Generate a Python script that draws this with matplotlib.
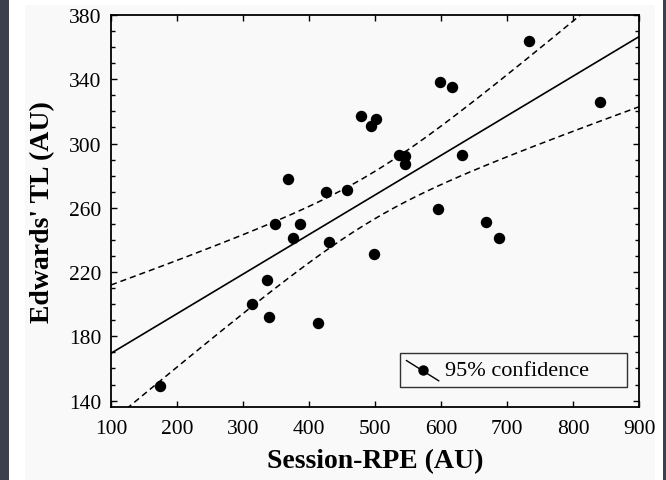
import matplotlib
matplotlib.use('Agg')
import matplotlib.pyplot as plt
import numpy as np
from matplotlib.legend_handler import HandlerBase
from matplotlib.lines import Line2D
from matplotlib.patches import Rectangle

# data
session_rpe = [174, 314, 336, 339, 414, 348, 386, 376, 368, 426, 458, 430, 498, 479,
               494, 502, 536, 545, 545, 595, 598, 617, 632, 668, 688, 733, 841]
edwards_tl = [149, 200, 215, 192, 188, 250, 250, 241, 278, 270, 271, 239, 231, 317,
              311, 315, 293, 292, 287, 259, 338, 335, 293, 251, 241, 364, 326]
x_ticks = [100, 200, 300, 400, 500, 600, 700, 800, 900]
y_ticks = [140, 180, 220, 260, 300, 340, 380]

x = np.array(session_rpe, float)
y = np.array(edwards_tl, float)

# linear fit + 95% confidence band of the mean
b, a = np.polyfit(x, y, 1)
n = len(x)
resid = y - (a + b * x)
s = np.sqrt(np.sum(resid**2) / (n - 2))
t = 2.06
xx = np.linspace(100, 900, 200)
yy = a + b * xx
se = s * np.sqrt(1.0 / n + (xx - x.mean())**2 / np.sum((x - x.mean())**2))


class DiagHandler(HandlerBase):
	def create_artists(self, legend, orig, xd, yd, width, height, fontsize, trans):
		ln = Line2D([xd, xd + width],
					[yd + height * 0.95, yd - height * 0.35],
					color='black', lw=1.0, transform=trans)
		mk = Line2D([xd + 0.5 * width], [yd + height * 0.35], marker='o', ms=6.5,
					color='black', ls='none', transform=trans)
		return [ln, mk]


plt.rcParams['font.family'] = 'Liberation Serif'
fig = plt.figure(figsize=(6.66, 4.81), dpi=100)
fig.patch.set_facecolor('white')
for r in [Rectangle((0, 0), 9 / 666, 1, facecolor='#3b404c'),
		  Rectangle((663 / 666, 0), 3 / 666, 1, facecolor='#3b404c'),
		  Rectangle((25 / 666, 0), 630 / 666, 1 - 6 / 481, facecolor='#f9f9f9')]:
	r.set_transform(fig.transFigure)
	r.set_edgecolor('none')
	r.set_zorder(-5)
	fig.add_artist(r)

ax = fig.add_axes([111 / 666, 1 - 408 / 481, 528 / 666, 392 / 481])
ax.set_facecolor('#f9f9f9')

ax.plot(xx, yy, color='black', lw=1.2)
ax.plot(xx, yy + t * se, color='black', lw=1.1, ls=(0, (4, 2.6)))
ax.plot(xx, yy - t * se, color='black', lw=1.1, ls=(0, (4, 2.6)))
ax.scatter(x, y, s=52, color='black', zorder=3)

ax.set_xlim(100, 900)
ax.set_ylim(136, 380)
ax.set_xticks(x_ticks)
ax.set_yticks(y_ticks)
ax.set_yticks(np.arange(140, 380, 10), minor=True)
ax.tick_params(which='both', direction='in', top=True, right=True, labelsize=15.5, width=1)
ax.tick_params(which='major', length=4)
ax.tick_params(axis='x', which='major', pad=8.5)
ax.tick_params(axis='y', which='major', pad=7)
ax.tick_params(which='minor', length=3)
for sp in ax.spines.values():
	sp.set_linewidth(1.3)

ax.set_xlabel('Session-RPE (AU)', fontsize=20, fontweight='bold', labelpad=7.5)
ax.set_ylabel("Edwards' TL (AU)", fontsize=20, fontweight='bold', labelpad=10)

h = Line2D([], [])
leg = ax.legend([h], ['95% confidence'], handler_map={Line2D: DiagHandler()},
				loc='lower left', bbox_to_anchor=(0.547, 0.051, 0.430, 0.079), mode='expand',
				fontsize=16, frameon=True, fancybox=False, edgecolor='black',
				handlelength=1.45, handletextpad=0.3, borderpad=0.3, borderaxespad=0)
leg.get_frame().set_linewidth(1.0)
leg.get_frame().set_facecolor('#f9f9f9')

fig.savefig('out.png', dpi=100)
